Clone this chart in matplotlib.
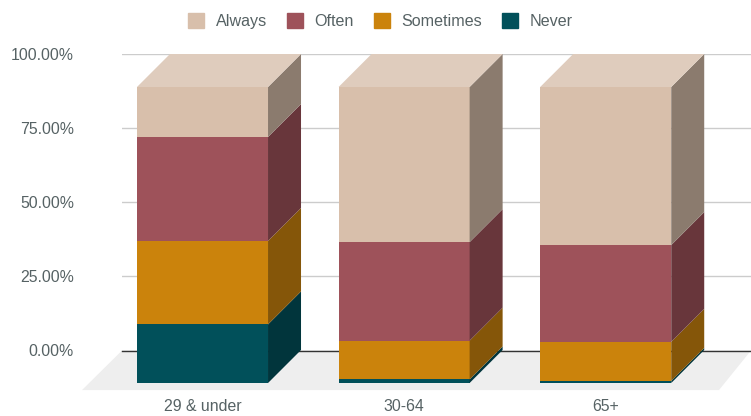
import matplotlib.pyplot as plt
from matplotlib.patches import Patch, Polygon
from matplotlib.ticker import PercentFormatter

plt.rcParams['font.family'] = ['Liberation Sans', 'DejaVu Sans']

groups = ["29 & under", "30-64", "65+"]
series = ["Never", "Sometimes", "Often", "Always"]
never = [19.8, 1.2, 0.7]
sometimes = [28.2, 13.1, 13.2]
often = [35.1, 33.3, 32.7]
always = [16.9, 52.4, 53.4]
values = [never, sometimes, often, always]

front = ["#01505a", "#cb830c", "#9e525a", "#d8bfab"]
side = ["#01353c", "#855609", "#68363b", "#8b7b6e"]
top_color = "#dfccbd"
text_color = "#566264"

W, H = 751, 416
BAR_W = 0.65
UNIT = 201.6   # pixels between bars
DX = 33 / UNIT
DY = 33 / 2.96
x_left = (122 - 202.5) / UNIT
x_right = (751 - 202.5) / UNIT

fig = plt.figure(figsize=(W / 100, H / 100), dpi=100)

# back wall: gridlines and the y axis
back = fig.add_axes([122 / W, 1 - 350.5 / H, 629 / W, 296.5 / H])
back.set_xlim(x_left, x_right)
back.set_ylim(0, 100)
back.set_yticks([0, 25, 50, 75, 100])
back.yaxis.set_major_formatter(PercentFormatter(100, decimals=2))
back.tick_params(axis='y', length=0, pad=34.5, labelsize=11.4, labelcolor=text_color)
back.set_xticks([])
back.grid(axis='y', color="#cccccc", lw=1)
back.set_axisbelow(True)
for s in back.spines.values():
    s.set_visible(False)
back.axhline(0, color="#333333", lw=1, zorder=3, clip_on=False)
floor_y = -39.5 / 2.96
back.add_patch(Polygon([(x_left, 0), (x_right, 0), (x_right - 32 / UNIT, floor_y),
                        (x_left - 40 / UNIT, floor_y)],
                       closed=True, fc="#eeeeee", ec="none", zorder=1, clip_on=False))

# front plane: the boxes
ax = fig.add_axes([122 / W, 1 - 383 / H, 629 / W, 296 / H], zorder=2)
ax.patch.set_visible(False)
ax.set_xlim(x_left, x_right)
ax.set_ylim(0, 100)
ax.set_yticks([])
ax.set_xticks(range(len(groups)))
ax.set_xticklabels(groups, fontsize=11.4, color=text_color)
ax.tick_params(axis='x', length=0, pad=11.5)
for s in ax.spines.values():
    s.set_visible(False)

for i in range(len(groups)):
    bottom = 0
    xr = i + BAR_W / 2
    for k in range(len(series)):
        v = values[k][i]
        ax.bar(i, v, BAR_W, bottom=bottom, color=front[k], clip_on=False, zorder=3)
        ax.add_patch(Polygon([(xr, bottom), (xr + DX, bottom + DY),
                              (xr + DX, bottom + v + DY), (xr, bottom + v)],
                             closed=True, fc=side[k], ec="none", clip_on=False, zorder=3))
        bottom += v
    xl = i - BAR_W / 2
    ax.add_patch(Polygon([(xl, bottom), (xr, bottom), (xr + DX, bottom + DY), (xl + DX, bottom + DY)],
                         closed=True, fc=top_color, ec="none", clip_on=False, zorder=3))

handles = [Patch(color=front[k], label=series[k]) for k in [3, 2, 1, 0]]
leg = fig.legend(handles=handles, ncol=4, loc='center', bbox_to_anchor=(380.5 / W, 1 - 21 / H),
                 frameon=False, fontsize=11.6, handlelength=1.0, handleheight=1.0,
                 handletextpad=0.7, columnspacing=1.25, labelcolor=text_color)

fig.savefig("out.png", dpi=100)
